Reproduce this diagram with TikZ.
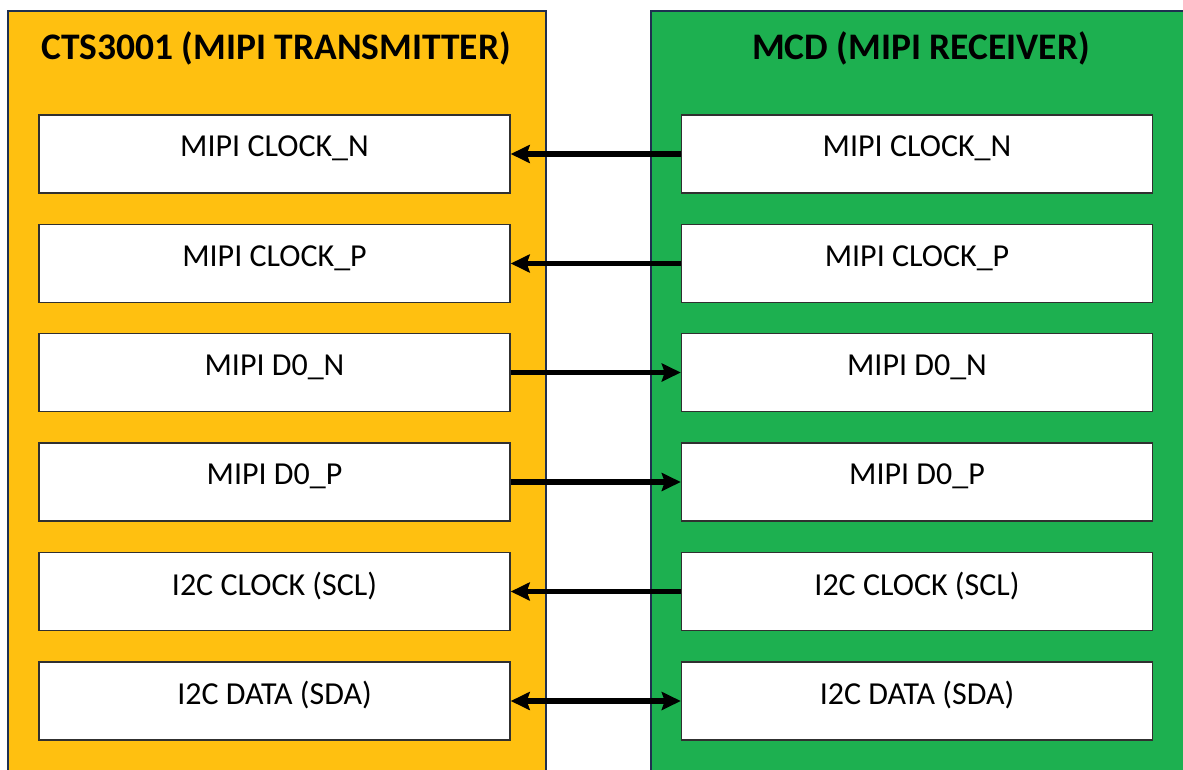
\documentclass[tikz,border=0pt]{standalone}
\usepackage{fontspec}
\setmainfont{Carlito}
\usetikzlibrary{arrows.meta}
\definecolor{txorange}{HTML}{FFC010}
\definecolor{rxgreen}{HTML}{1DB050}
\definecolor{panelborder}{HTML}{1F3050}
\definecolor{boxborder}{HTML}{303030}
\begin{document}
\begin{tikzpicture}[x=1pt,y=-1pt,
  panel/.style={draw=panelborder,line width=2pt},
  sigbox/.style={draw=boxborder,fill=white,line width=1.5pt,minimum width=471pt,minimum height=78pt,inner sep=0pt},
  sigtext/.style={font=\fontsize{32}{36}\selectfont,anchor=center},
  ttl/.style={font=\fontsize{37.5}{42}\selectfont\bfseries},
  sig/.style={line width=5.5pt,-{Stealth[length=19pt,width=18pt,inset=3pt]}},
  sigboth/.style={line width=5.5pt,{Stealth[length=19pt,width=18pt,inset=3pt]}-{Stealth[length=19pt,width=18pt,inset=3pt]}}]
\useasboundingbox (0,0) rectangle (1183,770);
\fill[white] (0,0) rectangle (1183,770);
\fill[txorange] (8,11) rectangle (546,780);
\draw[panel] (8,780) -- (8,11) -- (546,11) -- (546,780);
\fill[rxgreen] (651,11) rectangle (1190,780);
\draw[panel] (1190,11) -- (651,11) -- (651,780);
\node[ttl] (ttltx) at (276,48) {CTS3001 (MIPI TRANSMITTER)};
\node[ttl] (ttlrx) at (921,48) {MCD (MIPI RECEIVER)};
\foreach \i/\y/\t in {1/154/MIPI CLOCK\_N,2/263.5/MIPI CLOCK\_P,3/372.5/MIPI D0\_N,4/482/MIPI D0\_P,5/591.5/I2C CLOCK (SCL),6/701/I2C DATA (SDA)}{
  \node[sigbox] (tx\i) at (274.5,\y) {};
  \node[sigbox] (rx\i) at (917,\y) {};
  \node[sigtext] (txt\i) at ([yshift=5.5pt]tx\i.center) {\t};
  \node[sigtext] (rxt\i) at ([yshift=5.5pt]rx\i.center) {\t};
}
\draw[sig] (rx1.west) -- (tx1.east);
\draw[sig] (rx2.west) -- (tx2.east);
\draw[sig] (tx3.east) -- (rx3.west);
\draw[sig] (tx4.east) -- (rx4.west);
\draw[sig] (rx5.west) -- (tx5.east);
\draw[sigboth] (tx6.east) -- (rx6.west);
\end{tikzpicture}
\end{document}
